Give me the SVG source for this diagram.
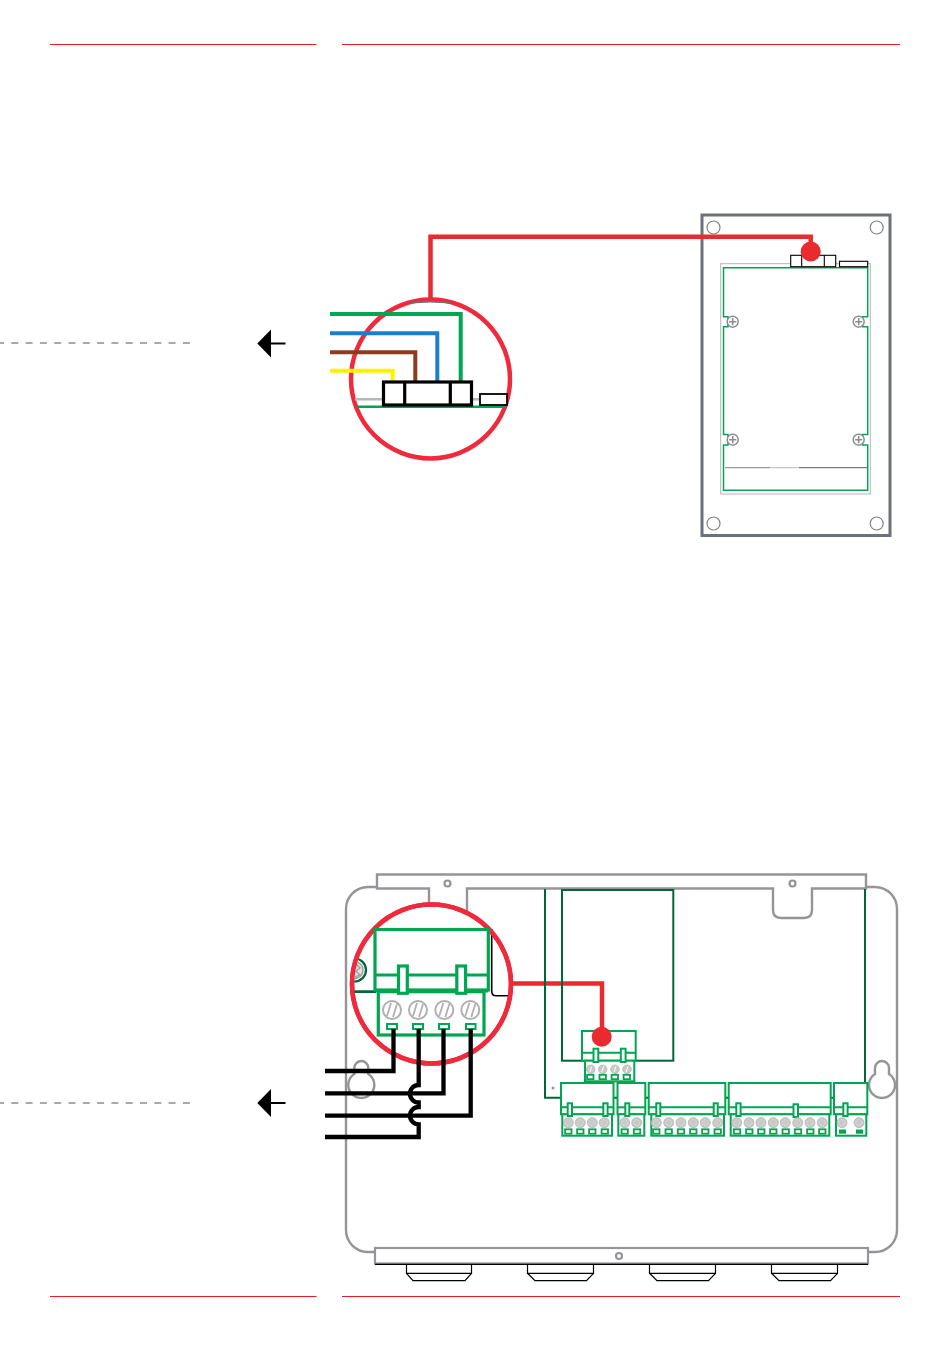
<svg xmlns="http://www.w3.org/2000/svg" width="950" height="1348" viewBox="0 0 950 1348">
<style>
.rule{stroke:#ed1c24;stroke-width:1;fill:none}
.dash{stroke:#8c8f8f;stroke-width:1.500;stroke-dasharray:7 7.300;stroke-dashoffset:3;fill:none}
.arrow{stroke:#000;stroke-width:2;fill:none}
.red{stroke:#e92a2f;stroke-width:4.500;fill:none}
.ring{stroke:#ee2a3c;stroke-width:4.500;fill:#fff}
.ringline{stroke:#ee2a3c;stroke-width:4.500;fill:none}
.dot{fill:#e92a2f}
.g{stroke:#00a651;fill:#fff}
.g1{stroke-width:2}
.g3{stroke-width:3.200}
.dg{stroke:#006838;stroke-width:2;fill:none}
.case{stroke:#939598;stroke-width:2.400;fill:none}
.casef{stroke:#939598;stroke-width:2.400;fill:#fff}
.wire{stroke-width:4;fill:none}
.bw{stroke:#000;stroke-width:4.300;fill:none}
.k{stroke:#000;fill:#fff}
.hole{stroke:#808285;stroke-width:1.200;fill:#fff}
.scr{fill:#c9c9c9;stroke:#b4b4b4;stroke-width:.8}
.slot{stroke:#b0b0b0;stroke-width:2;fill:#fff}
.bs{stroke:#b0b0b0;stroke-width:1.800;fill:none}
.gf{fill:#fff;stroke:#00a651;stroke-width:1.800}
.gs{fill:#00a651}
</style>
<defs>
<clipPath id="ringclip"><circle cx="431.500" cy="984" r="79.500"/></clipPath>
<g id="s"><circle r="5" class="scr"/><circle r="3" fill="none" stroke="#e6e6e6" stroke-width="1" stroke-dasharray="1 1.500"/></g>
<g id="big"><circle r="9" class="slot"/><path d="M-5 6L-1 -7M1 7L5 -6" class="bs"/></g>
<g id="mini"><circle r="4.300" class="scr" fill="#bdbdbd"/><path d="M-1 3L1 -3" stroke="#fff" stroke-width="1"/></g>
<g id="ph"><circle r="5.500" fill="#fff" stroke="#8a8d90" stroke-width="1.500"/><path d="M-3.600 0H3.600M0 -3.600V3.600" stroke="#8a8d90" stroke-width="1.600"/></g>
<g id="o"><rect x="-3.200" y="-2.200" width="6.400" height="4.400" class="gf"/></g>
</defs>

<g id="rules">
<path class="rule" d="M50 44.500H316.500M342 44.500H900M50 1296.500H316.500M342 1296.500H900"/>
</g>

<g id="callout-a">
<path class="dash" d="M0 343H192"/>
<path d="M257.300 343.500L271 329.500V357.500Z"/>
<path class="arrow" d="M268 343.500H285.500"/>
</g>

<g id="panel">
<rect x="702" y="215" width="188" height="320.500" fill="#fff" stroke="#6d7278" stroke-width="3"/>
<circle cx="713.500" cy="227.500" r="6.500" class="hole"/>
<circle cx="876.700" cy="227.500" r="6.500" class="hole"/>
<circle cx="713.500" cy="523.500" r="6.500" class="hole"/>
<circle cx="876.700" cy="523.500" r="6.500" class="hole"/>
<rect x="720.700" y="263.700" width="149.600" height="230.300" fill="#fff" stroke="#b5b5b5" stroke-width="1"/>
<path d="M723.500 267.700H867.700V316.700H862.500V326.700H867.700V434.500H862.500V445H867.700V490.300H723.500V445H728V434.500H723.500V326.700H728V316.700H723.500Z" fill="#fff" stroke="#00a651" stroke-width="1.500"/>
<use href="#ph" x="732.700" y="321.700"/>
<use href="#ph" x="858.700" y="321.700"/>
<use href="#ph" x="732.700" y="439.700"/>
<use href="#ph" x="858.700" y="439.700"/>
<path d="M725 467.700H770" stroke="#999" stroke-width="1.200"/>
<path d="M770 467.700H799" stroke="#aaa" stroke-width=".8"/>
<path d="M799 467.700H867" stroke="#58595b" stroke-width="1"/>
<rect x="790.700" y="255.300" width="45" height="11.400" class="k" stroke-width="1.100"/>
<path d="M801.700 255.300V266.700M824.300 255.300V266.700" stroke="#000" stroke-width="1.100"/>
<rect x="839.500" y="261.300" width="28.200" height="5.400" class="k" stroke-width="1.100"/>
</g>

<g id="connectors">
<path class="red" d="M430.500 298V236.800H810.700V250"/>
<path class="red" d="M512 983.500H602V1036" stroke-width="4"/>
</g>

<g id="detail-a">
<circle cx="430.500" cy="379" r="79.500" class="ring"/>
<path d="M411 303Q430.500 299.500 450 303Q430.500 301 411 303Z" fill="#6d7278" stroke="#6d7278" stroke-width="1"/>
<path d="M355 399.300H383M472 399.300H480" stroke="#b3b8b8" stroke-width="2.600" fill="none"/>
<path d="M357 406.700H505" stroke="#00a651" stroke-width="2.400" fill="none"/>
<path class="wire" stroke="#00a651" d="M330 314H460.700V382"/>
<path class="wire" stroke="#1b7fcc" d="M330 333.300H437.300V382"/>
<path class="wire" stroke="#8f3a1e" d="M330 352.300H415.300V382"/>
<path class="wire" stroke="#fff200" d="M330 370.700H392.700V382"/>
<rect x="383.500" y="382" width="88" height="23" class="k" stroke-width="3.200"/>
<path d="M404.700 382V405M450.300 382V405" stroke="#000" stroke-width="3.200"/>
<rect x="480" y="394" width="27" height="11" class="k" stroke-width="1.800"/>
</g>
<circle class="dot" cx="810.700" cy="251.500" r="10"/>

<g id="callout-b">
<path class="dash" d="M0 1103H192"/>
<path d="M257.300 1103L271 1089V1117Z"/>
<path class="arrow" d="M268 1103H285.500"/>
</g>

<g id="enclosure">
<path class="case" d="M377 887H368A22 22 0 0 0 346 909V1230A22 22 0 0 0 368 1252H375M866 887H875A22 22 0 0 1 897 909V1230A22 22 0 0 1 875 1252H868"/>
<path class="casef" d="M377 874.500H866V888.500H812V910Q812 918 804 918H781Q773 918 773 910V888.500H467V930H429V888.500H377Z"/>
<circle cx="447.500" cy="883.500" r="3" fill="#fff" stroke="#939598" stroke-width="2.200"/>
<circle cx="792.500" cy="883.500" r="3" fill="#fff" stroke="#939598" stroke-width="2.200"/>
<path class="case" d="M354.300 1074V1068A7 7 0 0 1 368.300 1068V1074A13 13 0 1 1 354.300 1074Z"/>
<path class="case" d="M875 1074V1068A7 7 0 0 1 889 1068V1074A13 13 0 1 1 875 1074Z"/>
<rect x="375" y="1248" width="493" height="15.500" fill="#fff" stroke="#939598" stroke-width="2.200"/>
<path d="M375 1264.300H868" stroke="#000" stroke-width="1.200"/>
<circle cx="619" cy="1256" r="3" fill="#fff" stroke="#939598" stroke-width="2.200"/>
<path id="feet" d="M406.500 1264.500V1273.300H471.500V1264.500M406.500 1273.300L413 1280.700H465L471.500 1273.300M527.500 1264.500V1273.300H593.500V1264.500M527.500 1273.300L535 1280.700H586.500L593.500 1273.300M649.500 1264.500V1273.300H715.500V1264.500M649.500 1273.300L657 1280.700H708.500L715.500 1273.300M771.500 1264.500V1273.300H837.500V1264.500M771.500 1273.300L779 1280.700H830.500L837.500 1273.300" fill="none" stroke="#000" stroke-width="1.200"/>
</g>

<g id="board">
<path class="dg" d="M545 889V1097.700H835M865 889V1083"/>
<rect x="562" y="890" width="111.300" height="170.700" class="dg"/>
<circle cx="553" cy="1088" r="1.500" fill="#999"/>
</g>

<g id="terminal-small">
<rect x="582" y="1031" width="53.700" height="29.700" class="g g1"/>
<path d="M582 1052.700H635.700" class="g g1"/>
<rect x="585" y="1060.700" width="49.300" height="20.600" class="g g1"/>
<rect x="593.500" y="1048.700" width="4.800" height="13.300" class="g g1"/>
<rect x="620.800" y="1048.700" width="4.800" height="13.300" class="g g1"/>
<use href="#mini" x="590.700" y="1069.300"/><use href="#mini" x="602.700" y="1069.300"/><use href="#mini" x="615" y="1069.300"/><use href="#mini" x="627" y="1069.300"/>
<g transform="translate(0,1077)"><use href="#o" x="590.300"/><use href="#o" x="602.700"/><use href="#o" x="614.800"/><use href="#o" x="626.800"/></g>
</g>
<circle class="dot" cx="601.700" cy="1036.700" r="10"/>

<g id="terminal-a">
<rect x="561" y="1083" width="52.500" height="31.300" class="g g1"/>
<path d="M561 1107.300H613.500" class="g g1"/>
<rect x="562.300" y="1114.300" width="49.700" height="21.400" class="g g1"/>
<rect x="567.700" y="1103.300" width="4.300" height="12.700" class="g g1"/>
<rect x="603.300" y="1103.300" width="4.300" height="12.700" class="g g1"/>
<g transform="translate(0,1122.700)"><use href="#s" x="568.300"/><use href="#s" x="580.300"/><use href="#s" x="592.300"/><use href="#s" x="604.300"/></g>
<g transform="translate(0,1131.500)"><use href="#o" x="568.300"/><use href="#o" x="580.300"/><use href="#o" x="592.300"/><use href="#o" x="604.800"/></g>
</g>

<g id="terminal-b">
<rect x="617.500" y="1083" width="27.800" height="31.300" class="g g1"/>
<path d="M617.500 1107.300H645.300" class="g g1"/>
<rect x="618.300" y="1114.300" width="26" height="21.400" class="g g1"/>
<rect x="625.300" y="1103.300" width="4" height="12.700" class="g g1"/>
<g transform="translate(0,1122.700)"><use href="#s" x="624.700"/><use href="#s" x="636.700"/></g>
<g transform="translate(0,1131.500)"><use href="#o" x="624.700"/><use href="#o" x="637"/></g>
</g>

<g id="terminal-c">
<rect x="648.700" y="1083" width="76.600" height="31.300" class="g g1"/>
<path d="M648.700 1107.300H725.300" class="g g1"/>
<rect x="651.300" y="1114.300" width="72.700" height="21.400" class="g g1"/>
<rect x="656.300" y="1103.300" width="4" height="12.700" class="g g1"/>
<rect x="713.700" y="1103.300" width="4" height="12.700" class="g g1"/>
<g transform="translate(0,1122.700)"><use href="#s" x="656.300"/><use href="#s" x="668.700"/><use href="#s" x="681"/><use href="#s" x="693.300"/><use href="#s" x="705.300"/><use href="#s" x="717.700"/></g>
<g transform="translate(0,1131.500)"><use href="#o" x="656.300"/><use href="#o" x="668.700"/><use href="#o" x="681"/><use href="#o" x="693.300"/><use href="#o" x="705.300"/><use href="#o" x="717.700"/></g>
</g>

<g id="terminal-d">
<rect x="728.700" y="1083" width="102" height="31.300" class="g g1"/>
<path d="M728.700 1107.300H830.700" class="g g1"/>
<rect x="730.700" y="1114.300" width="98.600" height="21.400" class="g g1"/>
<rect x="736.300" y="1103.300" width="4.300" height="12.700" class="g g1"/>
<rect x="793.500" y="1104.300" width="4.500" height="12.700" class="g g1"/>
<g transform="translate(0,1122.700)"><use href="#s" x="736.700"/><use href="#s" x="749"/><use href="#s" x="761"/><use href="#s" x="773.300"/><use href="#s" x="785.300"/><use href="#s" x="797.700"/><use href="#s" x="810"/><use href="#s" x="822.300"/></g>
<g transform="translate(0,1131.500)"><use href="#o" x="737"/><use href="#o" x="749.300"/><use href="#o" x="761.300"/><use href="#o" x="773.300"/><use href="#o" x="785.700"/><use href="#o" x="798"/><use href="#o" x="810.300"/><use href="#o" x="822.300"/></g>
</g>

<g id="terminal-e">
<rect x="834" y="1083" width="33.300" height="31.300" class="g g1"/>
<path d="M834 1107.300H867.300" class="g g1"/>
<rect x="836" y="1114.300" width="30.300" height="21.400" class="g g1"/>
<rect x="843.300" y="1103.300" width="4.300" height="12.700" class="g g1"/>
<use href="#s" x="842" y="1122.700"/><use href="#s" x="859" y="1122.700"/>
<rect x="839" y="1129.500" width="7" height="4.200" class="gs"/><rect x="856" y="1129.500" width="7" height="4.200" class="gs"/>
</g>

<g id="detail-b">
<circle cx="431.500" cy="984" r="79.500" class="ring"/>
<g clip-path="url(#ringclip)">
<path d="M351.500 991.700H376" stroke="#006838" stroke-width="2.800"/>
<circle cx="354.500" cy="970" r="11.500" fill="#fff" stroke="#006838" stroke-width="2.200"/>
<circle cx="354.500" cy="970" r="8.500" fill="#e4e4e4" stroke="#a0a0a0" stroke-width="1.600"/>
<path d="M356 964L360 968L356 971L360 975L355 977" fill="none" stroke="#a0a0a0" stroke-width="1.400"/>
</g>
<path d="M491.700 929V991Q491.700 995.700 496 995.700H509" fill="none" stroke="#000" stroke-width="1.600"/>
<circle cx="431.500" cy="984" r="79.500" class="ringline"/>
<rect x="375" y="929.500" width="113.300" height="60.500" class="g g3"/>
<path d="M375 975H488.300" class="g g3"/>
<rect x="378.300" y="991.700" width="105.700" height="43.300" class="g g3"/>
<path d="M376 991H488" class="g g3"/>
<rect x="398.500" y="966" width="8.800" height="27.300" class="g g3"/>
<rect x="456.800" y="966" width="8.800" height="27.300" class="g g3"/>
<g transform="translate(0,1010)"><use href="#big" x="392"/><use href="#big" x="418"/><use href="#big" x="444.300"/><use href="#big" x="470.300"/></g>
<g fill="#fff" stroke="#00a651" stroke-width="2"><rect x="387" y="1024" width="10" height="5"/><rect x="413" y="1024" width="10" height="5"/><rect x="439" y="1024" width="10" height="5"/><rect x="466" y="1024" width="9.500" height="5"/></g>
</g>

<g id="wires">
<path class="bw" d="M393.500 1029V1071H325"/>
<path class="bw" d="M443.500 1029V1093.300H325"/>
<path class="bw" d="M470.700 1029V1115.700H325"/>
<path class="bw" d="M418.700 1029V1085A8.700 8.700 0 0 0 418.700 1102.500V1107A8.700 8.700 0 0 0 418.700 1124.400V1137H325"/>
</g>
</svg>
